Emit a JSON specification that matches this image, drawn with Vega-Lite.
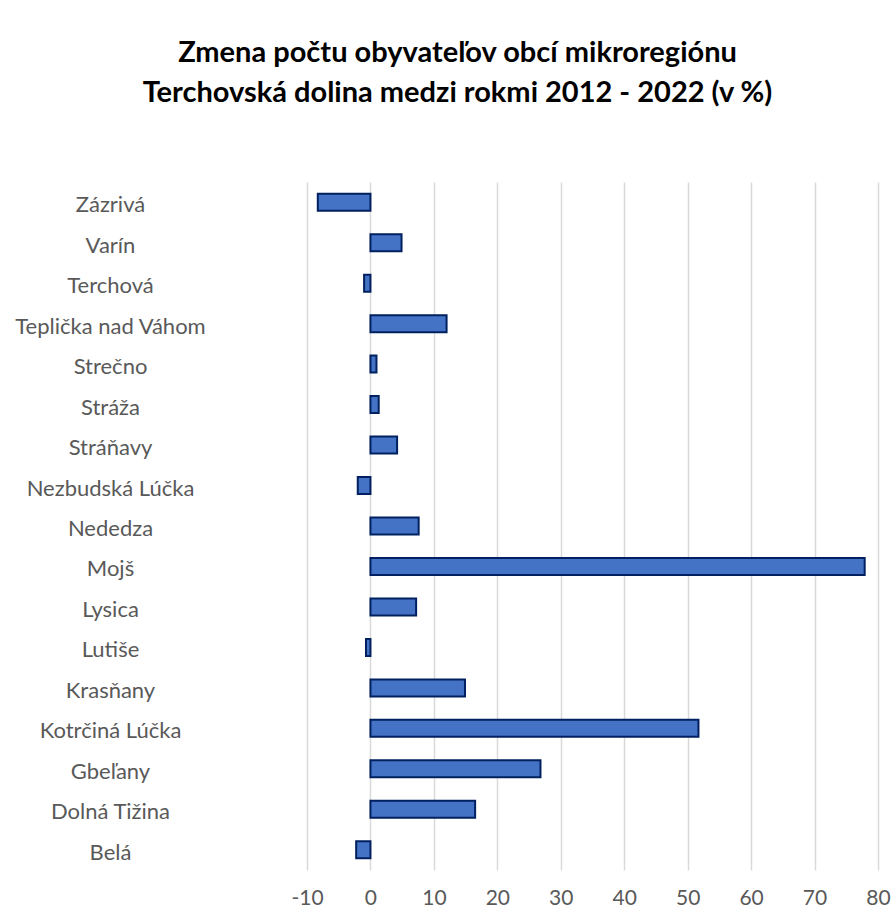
{
  "$schema": "https://vega.github.io/schema/vega-lite/v6.json",
  "autosize": {"type": "none"},
  "padding": {"left": 307, "top": 182, "right": 16, "bottom": 42},
  "width": 571,
  "height": 688,
  "background": "white",
  "title": {
    "text": ["Zmena počtu obyvateľov obcí mikroregiónu", "Terchovská dolina medzi rokmi 2012 - 2022 (v %)"],
    "anchor": "middle",
    "frame": "group",
    "dx": -135,
    "offset": 74,
    "font": "Lato",
    "fontSize": 29,
    "fontWeight": "bold",
    "color": "#000000",
    "lineHeight": 40
  },
  "data": {
    "values": [
      {"obec": "Zázrivá", "zmena": -8.3},
      {"obec": "Varín", "zmena": 4.9},
      {"obec": "Terchová", "zmena": -1.0},
      {"obec": "Teplička nad Váhom", "zmena": 12.0},
      {"obec": "Strečno", "zmena": 0.95},
      {"obec": "Stráža", "zmena": 1.3},
      {"obec": "Stráňavy", "zmena": 4.2},
      {"obec": "Nezbudská Lúčka", "zmena": -2.0},
      {"obec": "Nededza", "zmena": 7.6},
      {"obec": "Mojš", "zmena": 77.9},
      {"obec": "Lysica", "zmena": 7.2},
      {"obec": "Lutiše", "zmena": -0.7},
      {"obec": "Krasňany", "zmena": 14.9},
      {"obec": "Kotrčiná Lúčka", "zmena": 51.7},
      {"obec": "Gbeľany", "zmena": 26.8},
      {"obec": "Dolná Tižina", "zmena": 16.5},
      {"obec": "Belá", "zmena": -2.25}
    ]
  },
  "mark": {"type": "bar", "fill": "#4472C4", "stroke": "#002060", "strokeWidth": 2},
  "encoding": {
    "y": {
      "field": "obec",
      "type": "nominal",
      "sort": null,
      "scale": {"paddingInner": 0.58, "paddingOuter": 0.29},
      "axis": {
        "title": null,
        "domain": false,
        "ticks": false,
        "labelAlign": "center",
        "labelPadding": 197,
        "labelLimit": 400,
        "labelOffset": 3,
        "labelFont": "Lato",
        "labelFontSize": 22,
        "labelColor": "#595959"
      }
    },
    "x": {
      "field": "zmena",
      "type": "quantitative",
      "scale": {"domain": [-10, 80], "nice": false, "zero": false},
      "axis": {
        "title": null,
        "values": [-10, 0, 10, 20, 30, 40, 50, 60, 70, 80],
        "labelExpr": "'' + datum.value",
        "domain": false,
        "ticks": false,
        "grid": true,
        "gridColor": "#D9D9D9",
        "gridWidth": 1.5,
        "labelPadding": 17,
        "labelFont": "Lato",
        "labelFontSize": 21,
        "labelColor": "#595959",
        "labelFlush": false
      }
    }
  },
  "config": {"view": {"stroke": null}}
}
